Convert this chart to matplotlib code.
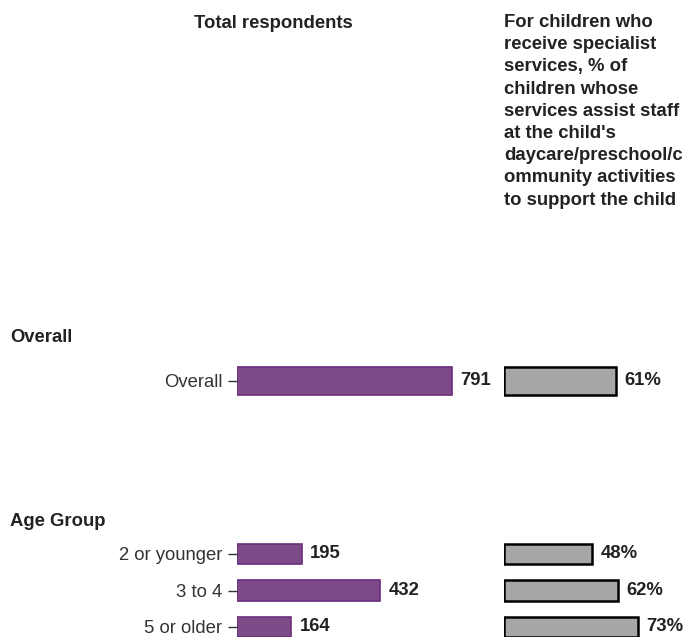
import matplotlib.pyplot as plt

plt.rcParams['font.family'] = ['Liberation Sans', 'DejaVu Sans']

overall_labels = ["Overall"]
overall_n = [791]
overall_pct = [61]

age_labels = ["2 or younger", "3 to 4", "5 or older"]
age_n = [195, 432, 164]
age_pct = [48, 62, 73]

W, H = 688, 637
fig = plt.figure(figsize=(W / 100, H / 100), dpi=100)

purple = "#7d4c88"
purple_edge = "#6b2d7c"
gray = "#a6a6a6"
fs = 13.3


def px_axes(x0, y_top, w, h):
    # pixel box (from top-left) -> figure coords
    return fig.add_axes([x0 / W, 1 - (y_top + h) / H, w / W, h / H])


def panel(y_center, row_px, bar_h, labels, counts, pcts, n_max):
    n = len(labels)
    top = y_center - row_px / 2
    axl = px_axes(237, top, 245, row_px * n)
    axr = px_axes(504, top, 184, row_px * n)
    ys = list(range(n))
    axl.barh(ys, counts, height=bar_h, color=purple, edgecolor=purple_edge, linewidth=1.2)
    axr.barh(ys, pcts, height=bar_h, color=gray, edgecolor="black", linewidth=1.8)
    axl.set_xlim(0, n_max)
    axr.set_xlim(0, 100)
    for ax in (axl, axr):
        ax.set_ylim(n - 0.5, -0.5)
        for s in ax.spines.values():
            s.set_visible(False)
        ax.set_xticks([])
        ax.patch.set_alpha(0)
    axl.set_yticks(ys)
    axl.set_yticklabels(labels, fontsize=fs, color="#333333")
    axl.tick_params(axis="y", length=6.5, width=1, color="#333333", pad=4)
    axr.set_yticks([])
    for y, v in zip(ys, counts):
        axl.annotate(str(v), (v, y), xytext=(6, 0), textcoords="offset points",
                     va="center", ha="left", fontsize=fs, fontweight="bold", color="#222222",
                     annotation_clip=False)
    for y, v in zip(ys, pcts):
        axr.annotate(f"{v}%", (v, y), xytext=(6, 0), textcoords="offset points",
                     va="center", ha="left", fontsize=fs, fontweight="bold", color="#222222",
                     annotation_clip=False)


panel(381, 37, 0.76, overall_labels, overall_n, overall_pct, 900)
panel(554, 36.5, 0.55, age_labels, age_n, age_pct, 740)

fig.text(273 / W, 1 - 24 / H, "Total respondents", ha="center", va="center",
         fontsize=fs, fontweight="bold", color="#222222")
fig.text(504 / W, 1 - 14 / H,
         "For children who\nreceive specialist\nservices, % of\nchildren whose\n"
         "services assist staff\nat the child's\ndaycare/preschool/c\n"
         "ommunity activities\nto support the child",
         ha="left", va="top", fontsize=fs, fontweight="bold", color="#222222",
         linespacing=1.4)
fig.text(10 / W, 1 - 338 / H, "Overall", ha="left", va="center",
         fontsize=fs, fontweight="bold", color="#222222")
fig.text(10 / W, 1 - 522 / H, "Age Group", ha="left", va="center",
         fontsize=fs, fontweight="bold", color="#222222")

fig.savefig("out.png", dpi=100)
